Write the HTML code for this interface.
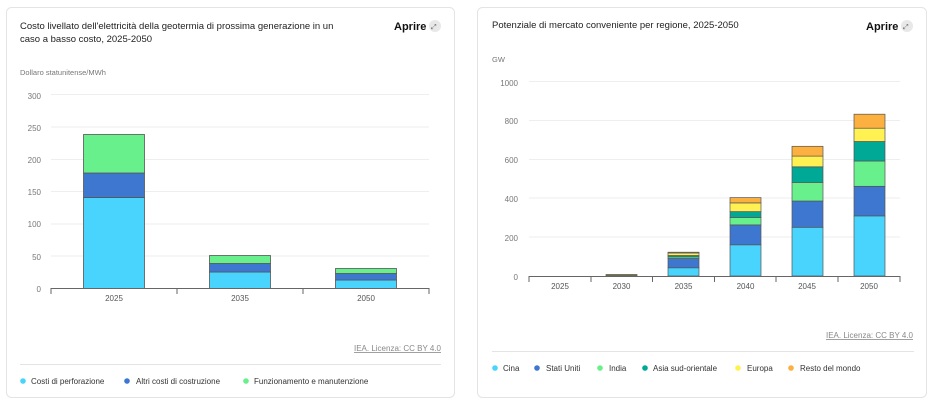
<!DOCTYPE html>
<html><head><meta charset="utf-8"><style>
body{margin:0;background:#fff;font-family:"Liberation Sans",sans-serif;}
svg{display:block}
</style></head><body>
<svg width="934" height="404" xmlns="http://www.w3.org/2000/svg" font-family="Liberation Sans, sans-serif">
<rect x="0" y="0" width="934" height="404" fill="#fff"/>
<rect x="6.5" y="7.5" width="448" height="390" rx="5" fill="#fff" stroke="#e4e4e4"/>
<rect x="477.5" y="7.5" width="449" height="390" rx="5" fill="#fff" stroke="#e4e4e4"/>
<!-- LEFT -->
<text x="20" y="29" font-size="9.5" fill="#222">Costo livellato dell'elettricità della geotermia di prossima generazione in un</text>
<text x="20" y="42" font-size="9.5" fill="#222">caso a basso costo, 2025-2050</text>
<text x="394" y="30" font-size="11" font-weight="bold" fill="#111">Aprire</text>
<circle cx="435" cy="26" r="6" fill="#e8e8e8"/><text x="431" y="29" font-size="7" fill="#666">⤢</text>
<text x="20" y="75" font-size="7.5" fill="#777">Dollaro statunitense/MWh</text>
<g stroke="#eee" stroke-width="1">
<line x1="51" y1="94.5" x2="429" y2="94.5"/><line x1="51" y1="127" x2="429" y2="127"/><line x1="51" y1="159.5" x2="429" y2="159.5"/><line x1="51" y1="191.5" x2="429" y2="191.5"/><line x1="51" y1="224" x2="429" y2="224"/><line x1="51" y1="256" x2="429" y2="256"/></g>
<g font-size="8" fill="#777" text-anchor="end">
<text x="41" y="99">300</text><text x="41" y="131">250</text><text x="41" y="163">200</text><text x="41" y="195">150</text><text x="41" y="227">100</text><text x="41" y="260">50</text><text x="41" y="292">0</text></g>
<g stroke="#555" stroke-width="0.8">
<rect x="83.5" y="197.5" width="61" height="91" fill="#48d4fc"/>
<rect x="83.5" y="173" width="61" height="24.5" fill="#3e77d0"/>
<rect x="83.5" y="134.5" width="61" height="38.5" fill="#68f08c"/>
<rect x="209.5" y="272" width="61" height="16.5" fill="#48d4fc"/>
<rect x="209.5" y="263.5" width="61" height="8.5" fill="#3e77d0"/>
<rect x="209.5" y="255.5" width="61" height="8" fill="#68f08c"/>
<rect x="335.5" y="280" width="61" height="8.5" fill="#48d4fc"/>
<rect x="335.5" y="273.5" width="61" height="6.5" fill="#3e77d0"/>
<rect x="335.5" y="268.5" width="61" height="5" fill="#68f08c"/>
</g>
<g stroke="#666" stroke-width="1"><line x1="51" y1="288.5" x2="429" y2="288.5"/>
<line x1="51" y1="288" x2="51" y2="294"/><line x1="177" y1="288" x2="177" y2="294"/><line x1="303" y1="288" x2="303" y2="294"/><line x1="429" y1="288" x2="429" y2="294"/></g>
<g font-size="8" fill="#555" text-anchor="middle"><text x="114" y="301">2025</text><text x="240" y="301">2035</text><text x="366" y="301">2050</text></g>
<text x="441" y="351" font-size="8" fill="#888" text-anchor="end" text-decoration="underline">IEA. Licenza: CC BY 4.0</text>
<line x1="20" y1="364.5" x2="441" y2="364.5" stroke="#e4e4e4"/>
<g font-size="8" fill="#333">
<circle cx="23" cy="381" r="2.8" fill="#48d4fc"/><text x="31" y="384">Costi di perforazione</text>
<circle cx="127" cy="381" r="2.8" fill="#3e77d0"/><text x="136" y="384">Altri costi di costruzione</text>
<circle cx="246" cy="381" r="2.8" fill="#68f08c"/><text x="254" y="384">Funzionamento e manutenzione</text></g>
<!-- RIGHT -->
<text x="492" y="28" font-size="9.5" fill="#222">Potenziale di mercato conveniente per regione, 2025-2050</text>
<text x="866" y="30" font-size="11" font-weight="bold" fill="#111">Aprire</text>
<circle cx="907" cy="26" r="6" fill="#e8e8e8"/><text x="903" y="29" font-size="7" fill="#666">⤢</text>
<text x="492" y="62" font-size="7.5" fill="#777">GW</text>
<g stroke="#eee" stroke-width="1">
<line x1="529" y1="81.5" x2="900" y2="81.5"/><line x1="529" y1="120.5" x2="900" y2="120.5"/><line x1="529" y1="159.5" x2="900" y2="159.5"/><line x1="529" y1="198" x2="900" y2="198"/><line x1="529" y1="237" x2="900" y2="237"/></g>
<g font-size="8" fill="#777" text-anchor="end">
<text x="518" y="86">1000</text><text x="518" y="124">800</text><text x="518" y="163">600</text><text x="518" y="202">400</text><text x="518" y="241">200</text><text x="518" y="280">0</text></g>
<g stroke="#555" stroke-width="0.7">
<rect x="606" y="274.5" width="31" height="1.5" fill="#7a7a40"/>
<!-- 2035 -->
<rect x="668" y="267.8" width="31" height="8.2" fill="#48d4fc"/>
<rect x="668" y="258.5" width="31" height="9.3" fill="#3e77d0"/>
<rect x="668" y="256.9" width="31" height="1.6" fill="#68f08c"/>
<rect x="668" y="255.5" width="31" height="1.4" fill="#00a896"/>
<rect x="668" y="253" width="31" height="2.5" fill="#fef151"/>
<rect x="668" y="252.2" width="31" height="0.8" fill="#fbb040"/>
<!-- 2040 -->
<rect x="730" y="244.8" width="31" height="31.2" fill="#48d4fc"/>
<rect x="730" y="224.9" width="31" height="19.9" fill="#3e77d0"/>
<rect x="730" y="217.5" width="31" height="7.4" fill="#68f08c"/>
<rect x="730" y="211.6" width="31" height="5.9" fill="#00a896"/>
<rect x="730" y="202.9" width="31" height="8.7" fill="#fef151"/>
<rect x="730" y="197.6" width="31" height="5.3" fill="#fbb040"/>
<!-- 2045 -->
<rect x="792" y="227.3" width="31" height="48.7" fill="#48d4fc"/>
<rect x="792" y="201" width="31" height="26.3" fill="#3e77d0"/>
<rect x="792" y="182.4" width="31" height="18.6" fill="#68f08c"/>
<rect x="792" y="166.8" width="31" height="15.6" fill="#00a896"/>
<rect x="792" y="156.1" width="31" height="10.7" fill="#fef151"/>
<rect x="792" y="146.3" width="31" height="9.8" fill="#fbb040"/>
<!-- 2050 -->
<rect x="854" y="215.9" width="31" height="60.1" fill="#48d4fc"/>
<rect x="854" y="186.3" width="31" height="29.6" fill="#3e77d0"/>
<rect x="854" y="161" width="31" height="25.3" fill="#68f08c"/>
<rect x="854" y="141.5" width="31" height="19.5" fill="#00a896"/>
<rect x="854" y="128.2" width="31" height="13.3" fill="#fef151"/>
<rect x="854" y="114.2" width="31" height="14" fill="#fbb040"/>
</g>
<g stroke="#666" stroke-width="1"><line x1="529" y1="276.5" x2="900" y2="276.5"/>
<line x1="529" y1="276" x2="529" y2="282"/><line x1="591" y1="276" x2="591" y2="282"/><line x1="652.5" y1="276" x2="652.5" y2="282"/><line x1="714.5" y1="276" x2="714.5" y2="282"/><line x1="776" y1="276" x2="776" y2="282"/><line x1="838" y1="276" x2="838" y2="282"/><line x1="900" y1="276" x2="900" y2="282"/></g>
<g font-size="8" fill="#555" text-anchor="middle"><text x="560" y="289">2025</text><text x="621.5" y="289">2030</text><text x="683.5" y="289">2035</text><text x="745.5" y="289">2040</text><text x="807" y="289">2045</text><text x="869" y="289">2050</text></g>
<text x="913" y="338" font-size="8" fill="#888" text-anchor="end" text-decoration="underline">IEA. Licenza: CC BY 4.0</text>
<line x1="492" y1="351.5" x2="914" y2="351.5" stroke="#e4e4e4"/>
<g font-size="8" fill="#333">
<circle cx="495" cy="368" r="2.8" fill="#48d4fc"/><text x="503" y="371">Cina</text>
<circle cx="537" cy="368" r="2.8" fill="#3e77d0"/><text x="546" y="371">Stati Uniti</text>
<circle cx="600" cy="368" r="2.8" fill="#68f08c"/><text x="609" y="371">India</text>
<circle cx="645" cy="368" r="2.8" fill="#00a896"/><text x="653" y="371">Asia sud-orientale</text>
<circle cx="738" cy="368" r="2.8" fill="#fef151"/><text x="747" y="371">Europa</text>
<circle cx="791" cy="368" r="2.8" fill="#fbb040"/><text x="800" y="371">Resto del mondo</text></g>
</svg>
</body></html>
